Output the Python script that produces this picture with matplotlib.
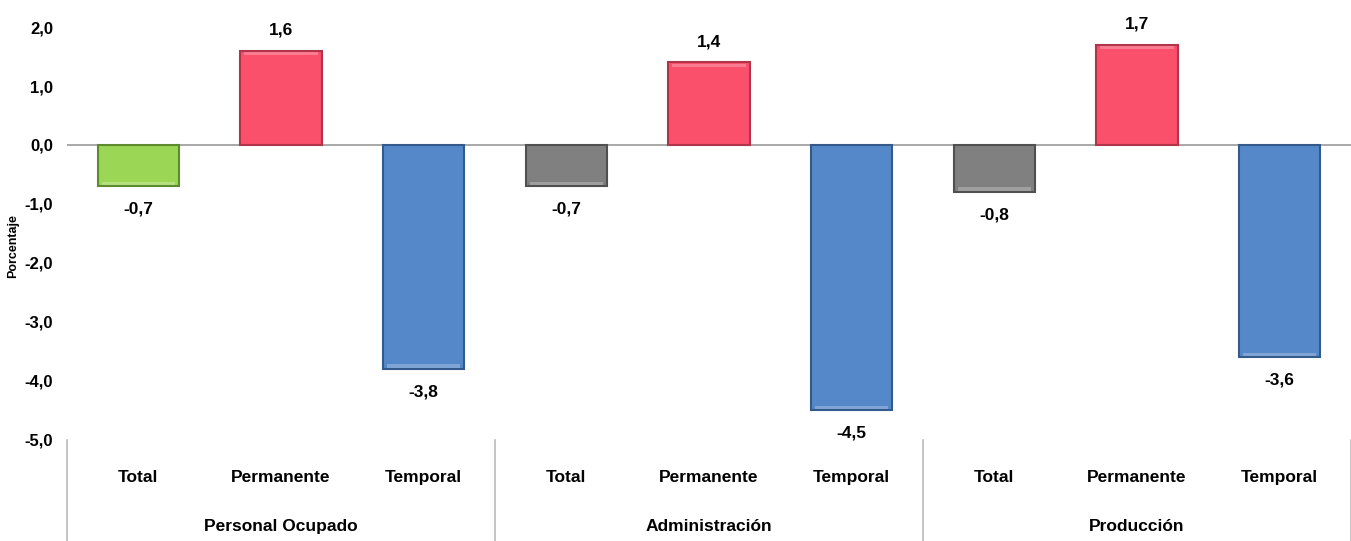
import numpy as np
import matplotlib.pyplot as plt
from matplotlib.transforms import blended_transform_factory

plt.rcParams['font.family'] = ['Liberation Sans', 'DejaVu Sans']

groups = ['Personal Ocupado', 'Administración', 'Producción']
categories = ['Total', 'Permanente', 'Temporal']
values = [-0.7, 1.6, -3.8, -0.7, 1.4, -4.5, -0.8, 1.7, -3.6]
colors = ['#9bd655', '#fa506c', '#5588c8',
          '#808080', '#fa506c', '#5588c8',
          '#808080', '#fa506c', '#5588c8']
edges = ['#5e8a2e', '#b0344a', '#345a8c',
         '#505050', '#b0344a', '#345a8c',
         '#505050', '#b0344a', '#345a8c']

fig = plt.figure(figsize=(13.51, 5.41), dpi=100)
ax = fig.add_axes([0.0496, 0.187, 0.9504, 0.763])

x = np.arange(len(values))
w = 0.57
ax.bar(x, values, width=w, color=colors, edgecolor=edges, linewidth=1.5, zorder=3)
# light bevel strip along the outer edge of each bar
for xi, v, c in zip(x, values, colors):
    ax.bar(xi, 0.06 * np.sign(v), bottom=v - 0.08 * np.sign(v), width=w * 0.9,
           color='white', alpha=0.25, linewidth=0, zorder=4)

ax.axhline(0, color='#999999', linewidth=1.2, zorder=2)

for xi, v in zip(x, values):
    txt = ('%.1f' % v).replace('.', ',')
    off = 0.22 if v > 0 else -0.26
    ax.text(xi, v + off, txt, ha='center', va='bottom' if v > 0 else 'top',
            fontsize=12.5, fontweight='bold')

ax.set_xlim(-0.5, len(values) - 0.5)
ax.set_ylim(-5, 2)
ax.set_yticks(np.arange(-5, 3, 1))
ax.set_yticklabels([('%.1f' % t).replace('.', ',') for t in np.arange(-5, 3, 1)],
                   fontsize=12, fontweight='bold')
ax.tick_params(axis='y', length=0, pad=10)
ax.set_xticks([])
for s in ax.spines.values():
    s.set_visible(False)

fig.text(0.0095, 0.545, 'Porcentaje', rotation=90, ha='center', va='center',
         fontsize=9, fontweight='bold')

trans = blended_transform_factory(ax.transData, ax.transAxes)
for i, xi in enumerate(x):
    ax.text(xi, -0.092, categories[i % 3], transform=trans, ha='center', va='center',
            fontsize=12.5, fontweight='bold')
for g, name in enumerate(groups):
    ax.text(g * 3 + 1, -0.21, name, transform=trans, ha='center', va='center',
            fontsize=12.5, fontweight='bold')
for g in range(len(groups) + 1):
    ax.plot([g * 3 - 0.5, g * 3 - 0.5], [0, -0.3], transform=trans,
            color='#bbbbbb', linewidth=1.2, clip_on=False)

fig.savefig('out.png', dpi=100)
